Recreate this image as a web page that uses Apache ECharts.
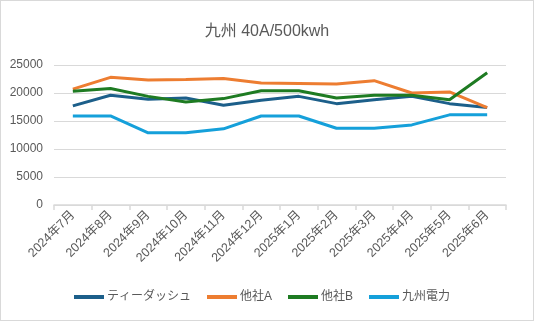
<!DOCTYPE html>
<html><head><meta charset="utf-8">
<script src="https://cdn.jsdelivr.net/npm/echarts@6/dist/echarts.min.js"></script>
<style>
html,body{margin:0;padding:0;background:#fff;}
#c{width:534px;height:321px;box-sizing:border-box;border:1px solid #D9D9D9;}
</style></head>
<body><div id="c"></div>
<script>
const categories = ['2024年7月','2024年8月','2024年9月','2024年10月','2024年11月','2024年12月','2025年1月','2025年2月','2025年3月','2025年4月','2025年5月','2025年6月'];
const tidash = [17700,19600,18900,19100,17800,18700,19400,18100,18800,19400,18100,17400];
const otherA = [20700,22800,22300,22400,22600,21800,21700,21600,22200,20000,20200,17400];
const otherB = [20300,20800,19400,18400,19000,20400,20400,19100,19600,19600,18800,23600];
const kyuden = [15900,15900,12900,12900,13600,15900,15900,13700,13700,14300,16100,16100];
const seriesNames = ['ティーダッシュ','他社A','他社B','九州電力'];
const colors = ['#1C5F8A','#ED7D31','#1E7B22','#15A0DA'];
const font = 'Liberation Sans, "Noto Sans CJK JP", sans-serif';
const chart = echarts.init(document.getElementById('c'), null, {renderer:'canvas'});
const dataSets = [tidash, otherA, otherB, kyuden];
chart.setOption({
  animation:false,
  color: colors,
  title:{text:'九州 40A/500kwh', left:'center', top:18, textStyle:{fontFamily:font, fontSize:16, fontWeight:'normal', color:'#595959'}},
  grid:{left:53, right:27, top:64, bottom:115, containLabel:false},
  legend:{bottom:12, left:68, itemWidth:30, itemHeight:4, itemGap:16, icon:'rect',
    textStyle:{fontFamily:font, fontSize:12, color:'#595959', padding:[0,0,0,-2]}, data:seriesNames},
  xAxis:{type:'category', data:categories, boundaryGap:true,
    axisLine:{lineStyle:{color:'#D9D9D9', width:1.5}},
    axisTick:{show:true, length:5, lineStyle:{color:'#D9D9D9', width:1.5}},
    axisLabel:{rotate:45, fontFamily:font, fontSize:12.5, color:'#595959', interval:0, margin:8}},
  yAxis:{type:'value', min:0, max:25000, interval:5000,
    axisLine:{show:false}, axisTick:{show:false},
    splitLine:{lineStyle:{color:'#D9D9D9', width:1}},
    axisLabel:{fontFamily:font, fontSize:12, color:'#595959', margin:11, formatter:v=>String(v)}},
  series: seriesNames.map((n,i)=>({name:n, type:'line', data:dataSets[i], symbol:'none',
    lineStyle:{width:3, color:colors[i]}, itemStyle:{color:colors[i]}}))
});
</script></body></html>
